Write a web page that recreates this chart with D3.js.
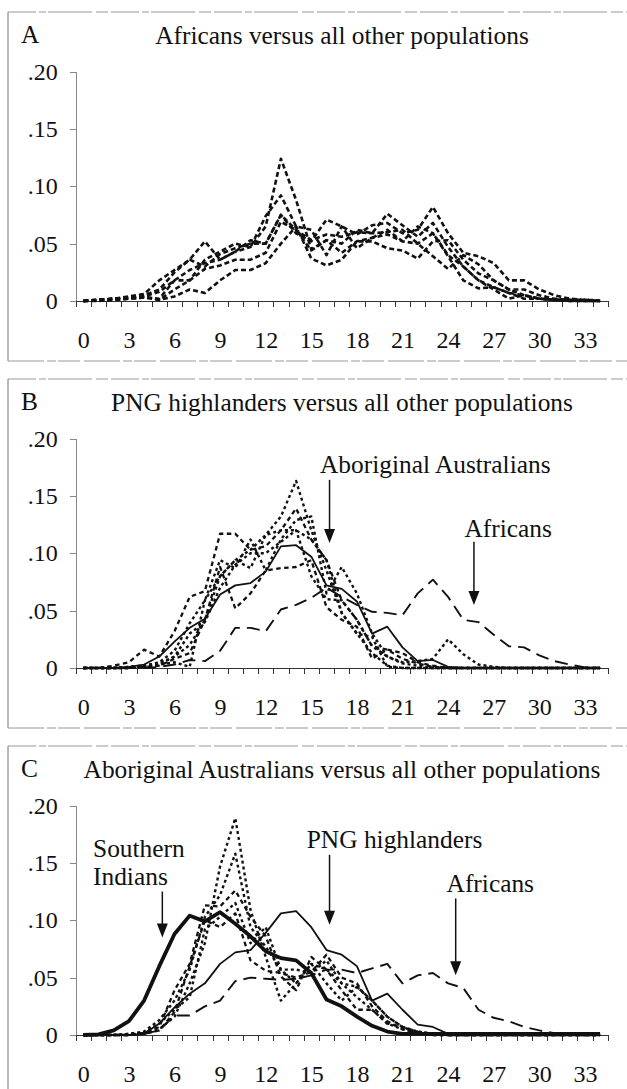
<!DOCTYPE html>
<html>
<head>
<meta charset="utf-8">
<style>
  body { margin: 0; background: #fff; }
  svg { display: block; font-family: "Liberation Serif", "Times New Roman", serif; }
  .frame { fill: none; stroke: #999; stroke-width: 1; }
  .series { fill: none; stroke: #111; stroke-linejoin: round; }
  .xaxis path, .xaxis line { stroke: #333; shape-rendering: crispEdges; }
  .yaxis path, .yaxis line { stroke: #888; shape-rendering: crispEdges; }
  .axis text { font-size: 24px; fill: #111; font-family: "Liberation Serif", serif; }
  .title, .note, .letter { font-size: 25.4px; fill: #111; }
</style>
<script src="https://cdn.jsdelivr.net/npm/d3@7"></script>
</head>
<body>
<svg id="chart" width="627" height="1089"></svg>
<script>
// categories on the x axis and the labelled ones
var categories = [0,1,2,3,4,5,6,7,8,9,10,11,12,13,14,15,16,17,18,19,20,21,22,23,24,25,26,27,28,29,30,31,32,33,34];
var xTickLabels = [0,3,6,9,12,15,18,21,24,27,30,33];
var yTicks = [0, 0.05, 0.10, 0.15, 0.20];
var yTickLabels = ["0", ".05", ".10", ".15", ".20"];

var panelTitles = ["Africans versus all other populations",
                   "PNG highlanders versus all other populations",
                   "Aboriginal Australians versus all other populations"];
var panelLetters = ["A", "B", "C"];

// panel A : africans vs each other population
var a1 = [0,0.001,0.002,0.003,0.004,0.008,0.018,0.027,0.033,0.036,0.043,0.047,0.065,0.124,0.088,0.045,0.053,0.042,0.052,0.055,0.058,0.052,0.05,0.059,0.04,0.03,0.018,0.012,0.007,0.005,0.002,0.001,0.001,0.0005,0];
var a2 = [0,0.001,0.002,0.004,0.006,0.018,0.027,0.036,0.052,0.036,0.043,0.053,0.05,0.075,0.059,0.052,0.071,0.065,0.058,0.066,0.068,0.059,0.062,0.082,0.059,0.042,0.039,0.033,0.018,0.018,0.01,0.005,0.002,0.001,0.0005];
var a3 = [0,0,0.001,0.002,0.003,0.001,0.004,0.01,0.007,0.018,0.027,0.027,0.033,0.05,0.065,0.037,0.031,0.036,0.052,0.052,0.046,0.044,0.037,0.052,0.053,0.036,0.024,0.018,0.01,0.005,0.002,0.001,0,0,0];
var a4 = [0,0.001,0.002,0.003,0.004,0.001,0.01,0.018,0.028,0.031,0.036,0.036,0.042,0.069,0.062,0.044,0.053,0.05,0.062,0.059,0.076,0.066,0.056,0.068,0.047,0.03,0.018,0.01,0.002,0.005,0.002,0.001,0.001,0,0];
var a5 = [0,0.001,0.001,0.002,0.003,0.002,0.018,0.018,0.036,0.043,0.05,0.047,0.074,0.092,0.065,0.062,0.04,0.065,0.046,0.055,0.062,0.052,0.065,0.059,0.039,0.018,0.011,0.012,0.007,0.002,0.002,0.001,0,0,0];
var a6 = [0,0.001,0.002,0.003,0.005,0.01,0.025,0.036,0.03,0.041,0.046,0.05,0.05,0.075,0.062,0.053,0.058,0.056,0.06,0.059,0.06,0.062,0.05,0.039,0.028,0.04,0.032,0.018,0.01,0.01,0.005,0.002,0.001,0.001,0];

// panel B : PNG highlanders vs each other population
var bAboriginal = [0,0,0,0.001,0.003,0.01,0.023,0.035,0.043,0.064,0.072,0.074,0.084,0.106,0.107,0.097,0.072,0.069,0.058,0.03,0.036,0.018,0.006,0.007,0.001,0,0,0,0,0,0,0,0,0,0];
var bAfricans = [0,0,0,0,0,0.001,0.003,0.007,0.006,0.015,0.035,0.035,0.032,0.051,0.055,0.061,0.07,0.062,0.055,0.049,0.048,0.046,0.065,0.077,0.062,0.042,0.04,0.029,0.019,0.018,0.011,0.006,0.003,0.0005,0];
var b1 = [0,0,0,0,0.001,0.003,0.01,0.02,0.042,0.08,0.094,0.103,0.116,0.132,0.163,0.12,0.085,0.048,0.03,0.013,0.002,0,0,0,0,0,0,0,0,0,0,0,0,0,0];
var b2 = [0,0,0.002,0.005,0.016,0.01,0.032,0.062,0.067,0.117,0.117,0.103,0.106,0.12,0.139,0.112,0.094,0.059,0.042,0.019,0.016,0.008,0.004,0.001,0,0,0,0,0,0,0,0,0,0,0];
var b3 = [0,0,0,0.001,0.002,0.005,0.015,0.039,0.059,0.094,0.087,0.112,0.085,0.112,0.129,0.132,0.065,0.088,0.065,0.03,0.01,0.004,0.002,0,0,0,0,0,0,0,0,0,0,0,0];
var b4 = [0,0,0,0,0.001,0.002,0.008,0.013,0.042,0.088,0.052,0.065,0.085,0.087,0.088,0.094,0.053,0.042,0.036,0.008,0.016,0.013,0.005,0.002,0,0,0,0,0,0,0,0,0,0,0];
var b5 = [0,0,0,0,0.001,0.003,0.005,0.001,0.059,0.08,0.094,0.087,0.116,0.12,0.12,0.112,0.094,0.048,0.03,0.027,0.001,0,0,0,0,0,0,0,0,0,0,0,0,0,0];
var b6 = [0,0,0,0.001,0.002,0.004,0.01,0.03,0.04,0.07,0.09,0.1,0.1,0.11,0.12,0.08,0.06,0.059,0.042,0.019,0.01,0.005,0.006,0.008,0.025,0.012,0.003,0.001,0,0,0,0,0,0,0];

// panel C : Aboriginal Australians vs each other population
var cSouthernIndians = [0,0.0005,0.004,0.012,0.03,0.06,0.088,0.104,0.099,0.107,0.097,0.086,0.073,0.067,0.065,0.054,0.031,0.025,0.016,0.008,0.003,0.001,0.001,0.001,0.001,0.001,0.001,0.001,0.001,0.001,0.001,0.001,0.001,0.001,0.001];
var cPNG = [0,0,0,0,0.001,0.01,0.024,0.036,0.045,0.062,0.072,0.074,0.089,0.106,0.108,0.094,0.074,0.07,0.06,0.03,0.036,0.022,0.009,0.007,0.001,0,0,0,0,0,0,0,0,0,0];
var cAfricans = [0,0,0,0,0.001,0.004,0.017,0.017,0.025,0.03,0.047,0.05,0.049,0.048,0.049,0.052,0.057,0.057,0.054,0.058,0.062,0.045,0.052,0.054,0.045,0.041,0.022,0.015,0.012,0.007,0.004,0.0015,0.001,0.001,0];
var c1 = [0,0,0,0,0.001,0.005,0.016,0.045,0.08,0.147,0.189,0.109,0.068,0.03,0.045,0.062,0.057,0.045,0.033,0.022,0.01,0.005,0.002,0.001,0,0,0,0,0,0,0,0,0,0,0];
var c2 = [0,0,0,0.001,0.003,0.013,0.03,0.057,0.103,0.122,0.158,0.094,0.077,0.057,0.057,0.054,0.065,0.045,0.042,0.03,0.016,0.007,0.003,0.001,0,0,0,0,0,0,0,0,0,0,0];
var c3 = [0,0,0,0,0.002,0.007,0.039,0.062,0.113,0.112,0.126,0.103,0.086,0.051,0.039,0.068,0.057,0.039,0.022,0.022,0.01,0.007,0.003,0.001,0,0,0,0,0,0,0,0,0,0,0];
var c4 = [0,0,0,0.001,0.002,0.01,0.022,0.033,0.092,0.103,0.115,0.08,0.094,0.057,0.045,0.062,0.045,0.03,0.042,0.03,0.016,0.007,0.002,0,0,0,0,0,0,0,0,0,0,0,0];
var c5 = [0,0,0,0,0.001,0.004,0.02,0.06,0.1,0.094,0.106,0.065,0.056,0.054,0.05,0.055,0.07,0.05,0.045,0.025,0.012,0.005,0.002,0,0,0,0,0,0,0,0,0,0,0,0];

// line looks
var dashA = {dash: "5,3", width: 2.6};
var dotted = {dash: "3,3", width: 2.4};
var shortDash = {dash: "4.5,3.5", width: 2.3};
var thinSolid = {dash: null, width: 1.8};
var thickSolid = {dash: null, width: 3.8};
var longDash = {dash: "13,7", width: 1.9};

var panels = [
  [[a1, dashA], [a2, dashA], [a3, dashA], [a4, dashA], [a5, dashA], [a6, dashA]],
  [[b1, dotted], [b2, shortDash], [b3, dotted], [b4, shortDash], [b5, dotted], [b6, dotted],
   [bAfricans, longDash], [bAboriginal, thinSolid]],
  [[c1, dotted], [c2, dotted], [c3, shortDash], [c4, dotted], [c5, shortDash],
   [cAfricans, longDash], [cPNG, thinSolid], [cSouthernIndians, thickSolid]]
];

var annotations = [
  {panel: 1, lines: ["Aboriginal Australians"], textAt: 15.57, textV: 0.170, arrowAt: 16.2, fromV: 0.164, toV: 0.109},
  {panel: 1, lines: ["Africans"], textAt: 25.08, textV: 0.114, arrowAt: 25.7, fromV: 0.110, toV: 0.055},
  {panel: 2, lines: ["Southern", "Indians"], textAt: 0.64, textV: 0.155, arrowAt: 5.2, fromV: 0.125, toV: 0.085},
  {panel: 2, lines: ["PNG highlanders"], textAt: 14.7, textV: 0.163, arrowAt: 16.2, fromV: 0.157, toV: 0.096},
  {panel: 2, lines: ["Africans"], textAt: 23.9, textV: 0.125, arrowAt: 24.5, fromV: 0.119, toV: 0.052}
];

var svg = d3.select("#chart");
var panelStep = 367;

var x = d3.scaleLinear().domain([-0.5, 34.5]).range([75.7, 607.7]);
var y = d3.scaleLinear().domain([0, 0.2]).range([301, 71.5]);

var line = d3.line()
  .x(function(d, i) { return x(categories[i]); })
  .y(function(d) { return y(d); });

panels.forEach(function(series, p) {
  var g = svg.append("g").attr("transform", "translate(0," + (p * panelStep) + ")");

  // scanned frame
  g.append("line").attr("class", "frame")
    .attr("x1", 8).attr("x2", 627).attr("y1", 12).attr("y2", 12)
    .attr("stroke-dasharray", "28,3,7,2,44,4,12,3");
  g.append("line").attr("class", "frame")
    .attr("x1", 8).attr("x2", 8).attr("y1", 12).attr("y2", 361)
    .style("stroke", "#777");
  g.append("line").attr("class", "frame")
    .attr("x1", 8).attr("x2", 627).attr("y1", 361).attr("y2", 361)
    .attr("stroke-dasharray", "36,3,9,2,22,4");

  g.append("text").attr("class", "letter")
    .attr("x", 21).attr("y", 43).text(panelLetters[p]);
  g.append("text").attr("class", "title")
    .attr("x", 342).attr("y", 44).attr("text-anchor", "middle")
    .text(panelTitles[p]);

  // axes
  g.append("g").attr("class", "axis yaxis")
    .attr("transform", "translate(" + x(-0.5) + ",0)")
    .call(d3.axisLeft(y).tickValues(yTicks)
      .tickFormat(function(d, i) { return yTickLabels[i]; })
      .tickSize(6).tickSizeOuter(0).tickPadding(12));

  var bounds = categories.map(function(c) { return c - 0.5; });
  bounds.push(34.5);
  g.append("g").attr("class", "axis xaxis")
    .attr("transform", "translate(0," + y(0) + ")")
    .call(d3.axisBottom(x).tickValues(bounds).tickFormat("").tickSize(6).tickSizeOuter(0));
  var xl = g.append("g").attr("class", "axis xaxis")
    .attr("transform", "translate(0," + y(0) + ")")
    .call(d3.axisBottom(x).tickValues(xTickLabels).tickSize(0).tickPadding(30));
  xl.select(".domain").remove();

  g.selectAll("path.series")
    .data(series)
    .enter().append("path")
    .attr("class", "series")
    .attr("d", function(s) { return line(s[0]); })
    .attr("stroke-width", function(s) { return s[1].width; })
    .attr("stroke-dasharray", function(s) { return s[1].dash; });

  annotations.filter(function(a) { return a.panel === p; }).forEach(function(a) {
    var t = g.append("text").attr("class", "note")
      .attr("x", x(a.textAt)).attr("y", y(a.textV));
    a.lines.forEach(function(l, k) {
      t.append("tspan").attr("x", x(a.textAt)).attr("dy", k === 0 ? 0 : 28).text(l);
    });
    var ax = x(a.arrowAt), y0 = y(a.fromV), y1 = y(a.toV);
    g.append("line").attr("x1", ax).attr("x2", ax).attr("y1", y0).attr("y2", y1 - 12)
      .attr("stroke", "#111").attr("stroke-width", 1.5);
    g.append("path")
      .attr("d", "M" + (ax - 5.5) + "," + (y1 - 14) + "L" + (ax + 5.5) + "," + (y1 - 14) + "L" + ax + "," + y1 + "Z")
      .attr("fill", "#111");
  });
});
</script>
</body>
</html>
